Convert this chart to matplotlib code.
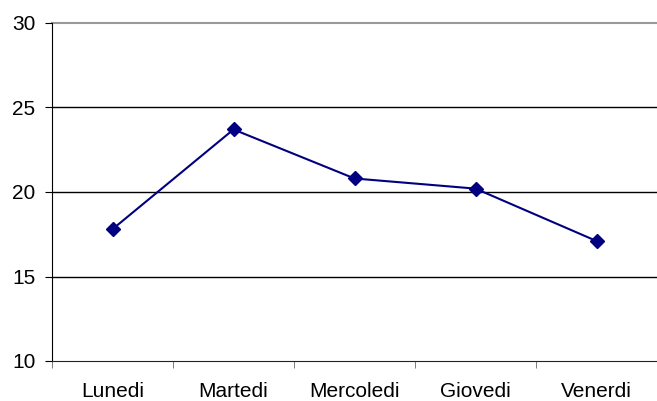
import matplotlib
matplotlib.use("Agg")
import matplotlib.pyplot as plt
import numpy as np

plt.rcParams['font.family'] = ['Liberation Sans', 'DejaVu Sans']

days = ["Lunedi", "Martedi", "Mercoledi", "Giovedi", "Venerdi"]
values = [17.8, 23.7, 20.8, 20.2, 17.1]
yticks = [10, 15, 20, 25, 30]

fig = plt.figure(figsize=(6.57, 4.01), dpi=100)
ax = fig.add_axes([52 / 657, 40 / 401, 1 - 52 / 657, 338 / 401])

x = np.arange(len(days))

# horizontal grid lines
for y in yticks[1:-1]:
    ax.axhline(y, color="black", lw=1, zorder=1)
ax.axhline(30, color="#999999", lw=1.5, zorder=1, clip_on=False)

ax.plot(x, values, color="#000080", lw=1.5, marker="D", markersize=7, zorder=3)

ax.set_ylim(10, 30)
ax.set_xlim(-0.5, -0.5 + 605 / 123)
ax.set_yticks(yticks)
ax.set_yticklabels([str(v) for v in yticks], fontsize=15)

ax.set_xticks(x)
ax.set_xticklabels(days, fontsize=15)
ax.tick_params(axis="x", length=0, pad=15)
ax.set_xticks(np.arange(len(days) + 1) - 0.5, minor=True)
ax.tick_params(axis="x", which="minor", length=5, color="#666666", direction="out")
ax.tick_params(axis="y", length=5, direction="out", pad=7)

for s in ["top", "right"]:
    ax.spines[s].set_visible(False)
ax.spines["left"].set_color("black")
ax.spines["bottom"].set_color("#222222")

fig.savefig("out.png", dpi=100)
